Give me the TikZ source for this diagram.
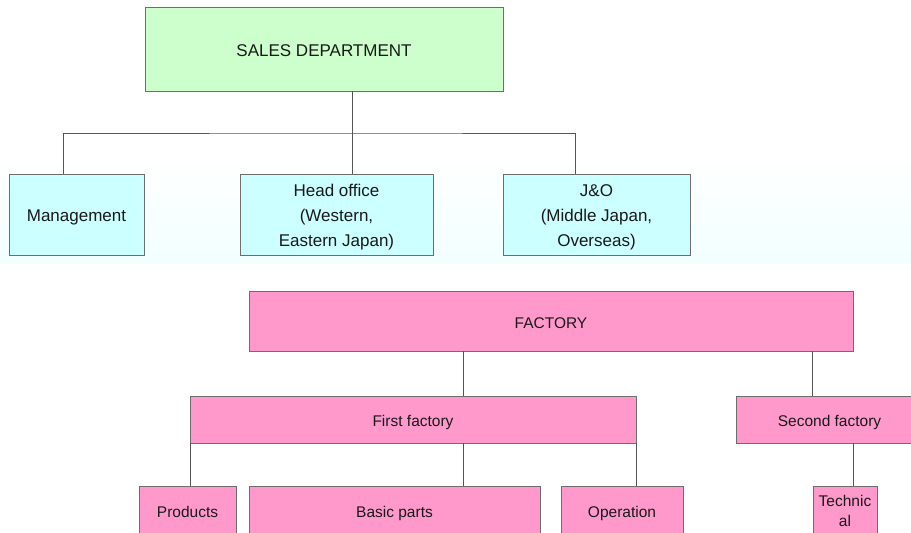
\documentclass[tikz,border=0pt]{standalone}
\usepackage{fontspec}
\setmainfont{Liberation Sans}
\definecolor{salesgreen}{HTML}{CCFFCC}
\definecolor{salescyan}{HTML}{CCFFFF}
\definecolor{factpink}{HTML}{FF99CC}
\definecolor{edgegray}{HTML}{6E6E6E}
\definecolor{linegray}{HTML}{555555}
\definecolor{tintcyan}{HTML}{F2FFFF}
\begin{document}
\begin{tikzpicture}[x=1pt,y=-1pt,
  box/.style={draw=edgegray, line width=0.9pt, rectangle, inner sep=0pt, align=center, text=black!90},
  upper/.style={box, font=\fontsize{17}{25}\selectfont},
  lower/.style={box, fill=factpink, font=\fontsize{15.5}{19.5}\selectfont},
  oneup/.style={text height=14pt, text depth=0pt},
  threeup/.style={text height=64pt, text depth=0pt},
  onelow/.style={text height=14pt, text depth=0pt},
  bottomrow/.style={text height=13pt, text depth=0pt},
  conn/.style={draw=linegray, line width=0.9pt}]
\useasboundingbox (0,0) rectangle (911,533);
\clip (0,0) rectangle (911,533);
\shade[top color=white, bottom color=tintcyan] (0,150) rectangle (911,263);
% sales department
\node[upper, oneup, fill=salesgreen, minimum width=358pt, minimum height=84pt] (sales) at (324,49) {SALES DEPARTMENT};
\node[upper, oneup, fill=salescyan, minimum width=135pt, minimum height=81pt] (mgmt) at (76.5,214.5) {Management};
\node[upper, threeup, fill=salescyan, minimum width=193pt, minimum height=81pt] (head) at (336.5,214.5) {Head office\\(Western,\\Eastern Japan)};
\node[upper, threeup, fill=salescyan, minimum width=187pt, minimum height=81pt] (jo) at (596.5,214.5) {J\&O\\(Middle Japan,\\Overseas)};
\coordinate (busS) at (352,133);
\coordinate (xm) at (63,0);
\coordinate (xj) at (575,0);
\draw[conn] (sales.south -| busS) -- (head.north -| busS);
\draw[conn] (mgmt.north -| xm) |- (busS) -| (jo.north -| xj);
% factory
\node[lower, onelow, minimum width=604pt, minimum height=60pt] (fact) at (551,321) {FACTORY};
\node[lower, onelow, minimum width=446pt, minimum height=47pt] (first) at (413,419.5) {First factory};
\node[lower, onelow, minimum width=187pt, minimum height=47pt] (second) at (829.5,419.5) {Second factory};
\node[lower, bottomrow, minimum width=97pt, minimum height=50pt] (prod) at (187.5,511) {Products};
\node[lower, bottomrow, minimum width=291pt, minimum height=50pt] (basic) at (394.5,511) {Basic parts};
\node[lower, bottomrow, minimum width=122pt, minimum height=50pt] (oper) at (622,511) {Operation};
\node[lower, minimum width=64pt, minimum height=50pt] (tech) at (845,511) {Technic\\al};
\coordinate (xf1) at (463,0);
\coordinate (xf2) at (812,0);
\coordinate (xp) at (190,0);
\coordinate (xo) at (636,0);
\coordinate (xt) at (853,0);
\draw[conn] (fact.south -| xf1) -- (first.north -| xf1);
\draw[conn] (fact.south -| xf2) -- (second.north -| xf2);
\draw[conn] (first.south -| xp) -- (prod.north -| xp);
\draw[conn] (first.south -| xf1) -- (basic.north -| xf1);
\draw[conn] (first.south -| xo) -- (oper.north -| xo);
\draw[conn] (second.south -| xt) -- (tech.north -| xt);
\end{tikzpicture}
\end{document}
